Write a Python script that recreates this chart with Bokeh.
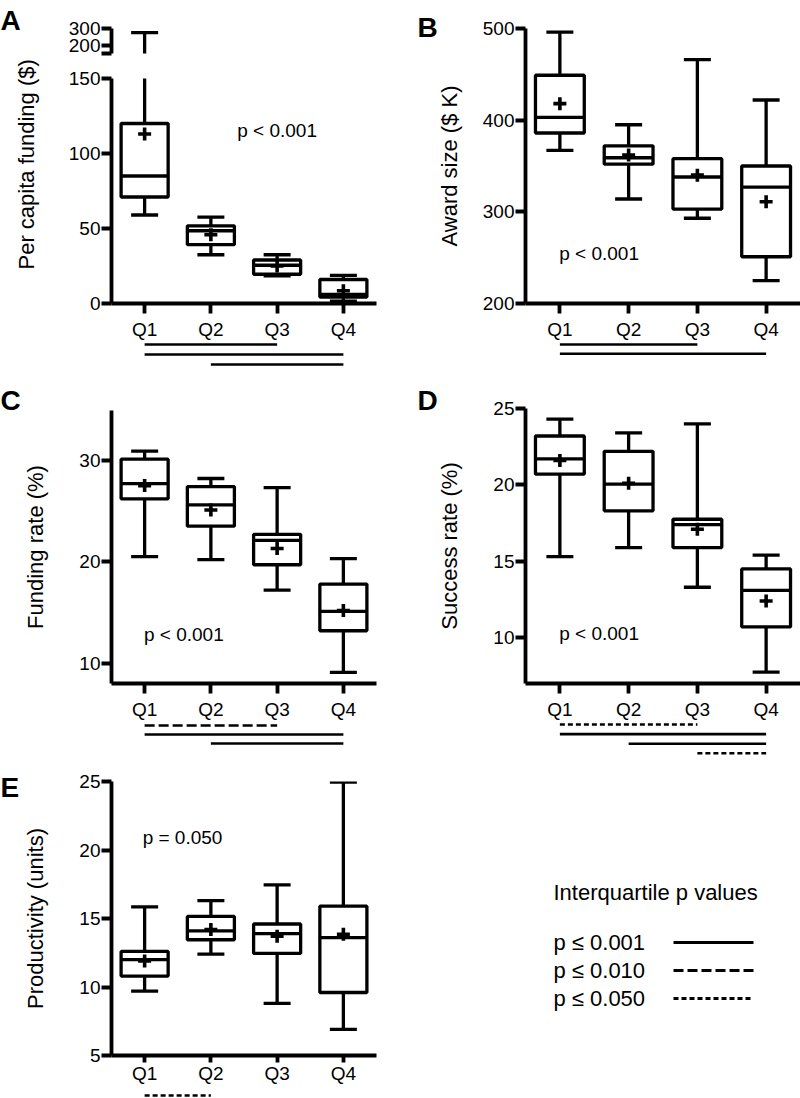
from bokeh.plotting import figure
from bokeh.models import Range1d, FactorRange, Label, FixedTicker, Title
from bokeh.layouts import row, column
from bokeh.embed import file_html
from bokeh.resources import INLINE
from bokeh.core.properties import value

# ---------------- data ----------------
quartiles = ["Q1", "Q2", "Q3", "Q4"]

# A: per capita funding ($)
a_low = [59, 32.5, 18.5, 1.5]
a_q1 = [71, 39.2, 19.5, 4.3]
a_med = [85, 48.5, 25.5, 6.0]
a_q3 = [120, 51.8, 29.0, 16.0]
a_high = [276, 57.6, 32.5, 18.8]
a_mean = [113, 45.8, 25.0, 8.5]
a_ticks_low = [0, 50, 100, 150]
a_ticks_high = [153, 200, 300]
a_break = 153

# B: award size ($ K)
b_low = [367, 314, 293, 225]
b_q1 = [386, 352, 303, 251]
b_med = [403, 359, 338, 327]
b_q3 = [449, 372, 358, 350]
b_high = [496, 395, 466, 422]
b_mean = [418, 362, 340, 311]
b_ticks = [200, 300, 400, 500]

# C: funding rate (%)
c_low = [20.5, 20.2, 17.2, 9.1]
c_q1 = [26.2, 23.5, 19.7, 13.2]
c_med = [27.7, 25.6, 22.1, 15.1]
c_q3 = [30.1, 27.4, 22.7, 17.8]
c_high = [30.9, 28.2, 27.3, 20.3]
c_mean = [27.5, 25.1, 21.3, 15.2]
c_ticks = [10, 20, 30]

# D: success rate (%)
d_low = [15.3, 15.9, 13.3, 7.75]
d_q1 = [20.7, 18.3, 15.9, 10.7]
d_med = [21.7, 20.05, 17.4, 13.1]
d_q3 = [23.2, 22.2, 17.75, 14.5]
d_high = [24.3, 23.4, 24.0, 15.4]
d_mean = [21.6, 20.1, 17.1, 12.4]
d_ticks = [10, 15, 20, 25]

# E: productivity (units)
e_low = [9.7, 12.4, 8.8, 6.9]
e_q1 = [10.8, 13.45, 12.45, 9.6]
e_med = [12.0, 14.1, 13.9, 13.6]
e_q3 = [12.6, 15.15, 14.6, 15.9]
e_high = [15.85, 16.3, 17.45, 24.95]
e_mean = [11.9, 14.2, 13.7, 13.85]
e_ticks = [5, 10, 15, 20, 25]

# interquartile comparisons: from, to, p class (one row per level)
a_sig_from = ["Q1", "Q1", "Q2"]
a_sig_to = ["Q3", "Q4", "Q4"]
a_sig_p = ["p ≤ 0.001", "p ≤ 0.001", "p ≤ 0.001"]
b_sig_from = ["Q1", "Q1"]
b_sig_to = ["Q3", "Q4"]
b_sig_p = ["p ≤ 0.001", "p ≤ 0.001"]
c_sig_from = ["Q1", "Q1", "Q2"]
c_sig_to = ["Q3", "Q4", "Q4"]
c_sig_p = ["p ≤ 0.010", "p ≤ 0.001", "p ≤ 0.001"]
d_sig_from = ["Q1", "Q1", "Q2", "Q3"]
d_sig_to = ["Q3", "Q4", "Q4", "Q4"]
d_sig_p = ["p ≤ 0.050", "p ≤ 0.001", "p ≤ 0.001", "p ≤ 0.050"]
e_sig_from = ["Q1"]
e_sig_to = ["Q2"]
e_sig_p = ["p ≤ 0.050"]

legend_title = "Interquartile p values"
legend_labels = ["p ≤ 0.001", "p ≤ 0.010", "p ≤ 0.050"]
legend_dashes = ["solid", "10 4", "5 3"]
DASH = dict(zip(legend_labels, legend_dashes))

# ---------------- styling ----------------
FONT = "Liberation Sans"
TICK_FS = "19px"
LABEL_FS = "22px"
LW = 3.3
AXW = 3.8


def base_fig(w, h, xr, yr, left, right, top, bottom):
    p = figure(width=w, height=h, x_range=xr, y_range=yr, title=None,
               output_backend="svg", toolbar_location=None,
               min_border_left=left, min_border_right=right,
               min_border_top=top, min_border_bottom=bottom)
    p.xgrid.visible = False
    p.ygrid.visible = False
    p.outline_line_color = None
    p.background_fill_color = "white"
    p.border_fill_color = "white"
    return p


def style_axes(p, yticks, ylabel, standoff, show_x=True, xtick=10, xstand=5):
    ax = p.yaxis[0]
    ax.ticker = FixedTicker(ticks=yticks)
    ax.minor_tick_line_color = None
    ax.major_tick_in = 0
    ax.major_tick_out = 10
    ax.major_tick_line_width = AXW
    ax.axis_line_width = AXW
    ax.major_label_standoff = 1
    ax.major_label_text_font = FONT
    ax.major_label_text_font_size = TICK_FS
    ax.major_label_text_color = "black"
    if ylabel:
        ax.axis_label = ylabel
        ax.axis_label_text_font = FONT
        ax.axis_label_text_font_size = LABEL_FS
        ax.axis_label_text_font_style = "normal"
        ax.axis_label_text_color = "black"
        ax.axis_label_standoff = standoff
    xa = p.xaxis[0]
    if show_x:
        xa.major_tick_in = 0
        xa.major_tick_out = xtick
        xa.major_tick_line_width = AXW
        xa.axis_line_width = AXW
        xa.major_label_standoff = xstand
        xa.major_label_text_font = FONT
        xa.major_label_text_font_size = TICK_FS
        xa.major_label_text_color = "black"
    else:
        xa.visible = False


def draw_boxes(p, low, q1, med, q3, high, mean, boxes=True):
    p.segment(x0=quartiles, y0=q3, x1=quartiles, y1=high, line_color="black", line_width=LW)
    p.scatter(x=quartiles, y=high, marker="dash", size=27, line_color="black", line_width=LW)
    if not boxes:
        return
    p.segment(x0=quartiles, y0=low, x1=quartiles, y1=q1, line_color="black", line_width=LW)
    p.vbar(x=quartiles, bottom=q1, top=q3, width=0.71, fill_color="white",
           line_color="black", line_width=LW)
    p.scatter(x=quartiles, y=med, marker="dash", size=49, line_color="black", line_width=LW)
    p.scatter(x=quartiles, y=low, marker="dash", size=27, line_color="black", line_width=LW)
    p.scatter(x=quartiles, y=mean, marker="cross", size=13, line_color="black", line_width=3.6)


def letter(p, text, x, y):
    p.add_layout(Label(x=x, y=y, x_units="canvas", y_units="canvas", text=text,
                       text_font=FONT, text_font_style="bold", text_font_size="28px",
                       text_baseline="alphabetic", text_align="left", text_color="black"),
                 "left")


def ptext(p, text, x, y, align="left"):
    p.add_layout(Label(x=x, y=y, text=text, text_font=FONT, text_font_size="19px",
                       text_align=align, text_baseline="middle", text_color="black"))


def sig_strip(xr, w, h, left, right, top_off, step, froms, tos, pcls):
    top = 1 - top_off / step
    bot = top + h / step
    s = base_fig(w, h, xr, Range1d(bot, top), left, right, 0, 0)
    s.xaxis.visible = False
    s.yaxis.visible = False
    levels = list(range(1, len(froms) + 1))
    for cls, dash in DASH.items():
        idx = [i for i, c in enumerate(pcls) if c == cls]
        if not idx:
            continue
        s.segment(x0=[froms[i] for i in idx], x1=[tos[i] for i in idx],
                  y0=[levels[i] for i in idx], y1=[levels[i] for i in idx],
                  line_color="black", line_width=2.6, line_dash=dash)
    return s


W = 400
LL, LR = 100, 24     # left column borders
RL, RR = 125, 0      # right column borders

xrA = FactorRange(factors=quartiles)
xrB = FactorRange(factors=quartiles)
xrC = FactorRange(factors=quartiles)
xrD = FactorRange(factors=quartiles)
xrE = FactorRange(factors=quartiles)

# ---- A (broken axis) ----
fA_top = base_fig(W, 60, xrA, Range1d(a_break, 300), LL, LR, 28, 7)
style_axes(fA_top, a_ticks_high, None, 0, show_x=False)
fA_top.yaxis[0].major_label_overrides = {a_break: ""}
draw_boxes(fA_top, a_low, a_q1, a_med, a_q3, a_high, a_mean, boxes=False)
letter(fA_top, "A", 0, 20)

fA = base_fig(W, 282, xrA, Range1d(0, 150), LL, LR, 18, 38)
style_axes(fA, a_ticks_low, None, 0)
draw_boxes(fA, a_low, a_q1, a_med, a_q3, a_high, a_mean)
ptext(fA, "p < 0.001", 2.5, 115.5, align="center")
# y label spans the whole broken axis: left-panel title shifted up, with an empty
# second line as spacer towards the axis
fA.add_layout(Title(text="Per capita funding ($)\n", align="left", vertical_align="middle",
                    offset=34, standoff=2,
                    text_font=FONT, text_font_size=LABEL_FS, text_font_style="normal",
                    text_color="black"), "left")
sA = sig_strip(xrA, W, 30, LL, LR, 2.0, 10.0, a_sig_from, a_sig_to, a_sig_p)

# ---- B ----
fB = base_fig(W, 342, xrB, Range1d(200, 500), RL, RR, 28, 38)
style_axes(fB, b_ticks, "Award size ($ K)", 18)
draw_boxes(fB, b_low, b_q1, b_med, b_q3, b_high, b_mean)
ptext(fB, "p < 0.001", 0.49, 255)
letter(fB, "B", 17, 27)
sB = sig_strip(xrB, W, 30, RL, RR, 2.0, 9.3, b_sig_from, b_sig_to, b_sig_p)

# ---- C ----
fC = base_fig(W, 350, xrC, Range1d(8.0, 34.9), LL, LR, 38, 38)
style_axes(fC, c_ticks, "Funding rate (%)", 28)
draw_boxes(fC, c_low, c_q1, c_med, c_q3, c_high, c_mean)
ptext(fC, "p < 0.001", 0.49, 12.8)
letter(fC, "C", 0, 28)
sC = sig_strip(xrC, W, 38, LL, LR, 3.0, 9.0, c_sig_from, c_sig_to, c_sig_p)

# ---- D ----
fD = base_fig(W, 350, xrD, Range1d(7.0, 25.0), RL, RR, 36, 38)
style_axes(fD, d_ticks, "Success rate (%)", 28)
draw_boxes(fD, d_low, d_q1, d_med, d_q3, d_high, d_mean)
ptext(fD, "p < 0.001", 0.49, 10.3)
letter(fD, "D", 17, 28)
sD = sig_strip(xrD, W, 38, RL, RR, 2.0, 9.6, d_sig_from, d_sig_to, d_sig_p)

# ---- E ----
fE = base_fig(W, 326, xrE, Range1d(5, 25), LL, LR, 21, 29)
style_axes(fE, e_ticks, "Productivity (units)", 28, xtick=7, xstand=0)
draw_boxes(fE, e_low, e_q1, e_med, e_q3, e_high, e_mean)
ptext(fE, "p  = 0.050", 0.47, 20.9)
letter(fE, "E", 0, 27)
sE = sig_strip(xrE, W, 12, LL, LR, 9.0, 9.5, e_sig_from, e_sig_to, e_sig_p)

# ---- legend (page coordinates inside its frame) ----
fL = figure(width=W, height=338, x_range=Range1d(525, 800), y_range=Range1d(1098, 760),
            title=None, output_backend="svg", toolbar_location=None,
            x_axis_type=None, y_axis_type=None,
            min_border_left=RL, min_border_right=RR, min_border_top=0, min_border_bottom=0)
fL.xgrid.visible = False
fL.ygrid.visible = False
fL.outline_line_color = None
fL.text(x=[553], y=[892], text=[legend_title], text_font=value(FONT),
        text_font_size="22px", text_baseline="middle", text_align="left", text_color="black")
ys = [942 + 28.0 * i for i in range(len(legend_labels))]
fL.text(x=[553] * len(legend_labels), y=ys, text=legend_labels, text_font=value(FONT),
        text_font_size="22px", text_baseline="middle", text_align="left", text_color="black")
for yv, dash in zip(ys, legend_dashes):
    fL.segment(x0=[673], x1=[753], y0=[yv], y1=[yv], line_color="black",
               line_width=3.0, line_dash=dash)

left_col = column(fA_top, fA, sA, fC, sC, fE, sE, spacing=0)
right_col = column(fB, sB, fD, sD, fL, spacing=0)
layout = row(left_col, right_col, spacing=0)

open("out.html", "w").write(file_html(layout, INLINE, "Funding quartiles"))
